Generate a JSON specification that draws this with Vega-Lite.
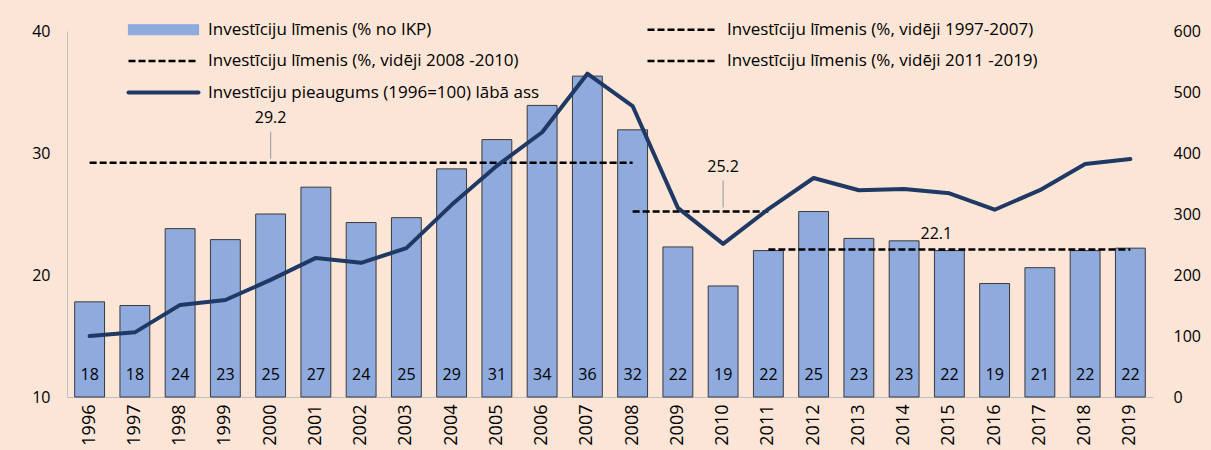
{
  "$schema": "https://vega.github.io/schema/vega-lite/v6.json",
  "width": 1086,
  "height": 366,
  "autosize": {"type": "none"},
  "padding": {"left": 67, "top": 31, "right": 58, "bottom": 53},
  "background": "#FBE5D6",
  "config": {
    "view": {"stroke": null},
    "font": "Open Sans",
    "axis": {"grid": false, "ticks": false, "labelFont": "Open Sans", "labelFontSize": 16, "labelColor": "#000000", "domainColor": "#BFBFBF", "title": null}
  },
  "datasets": {
    "main": [
      {"year": "1996", "share": 17.8, "growth": 100},
      {"year": "1997", "share": 17.5, "growth": 106},
      {"year": "1998", "share": 23.8, "growth": 151},
      {"year": "1999", "share": 22.9, "growth": 159},
      {"year": "2000", "share": 25.0, "growth": 192},
      {"year": "2001", "share": 27.2, "growth": 228},
      {"year": "2002", "share": 24.3, "growth": 220},
      {"year": "2003", "share": 24.7, "growth": 244},
      {"year": "2004", "share": 28.7, "growth": 315},
      {"year": "2005", "share": 31.1, "growth": 379},
      {"year": "2006", "share": 33.9, "growth": 434},
      {"year": "2007", "share": 36.3, "growth": 530},
      {"year": "2008", "share": 31.9, "growth": 477},
      {"year": "2009", "share": 22.3, "growth": 310},
      {"year": "2010", "share": 19.1, "growth": 251},
      {"year": "2011", "share": 22.0, "growth": 308},
      {"year": "2012", "share": 25.2, "growth": 359},
      {"year": "2013", "share": 23.0, "growth": 339},
      {"year": "2014", "share": 22.8, "growth": 341},
      {"year": "2015", "share": 22.0, "growth": 334},
      {"year": "2016", "share": 19.3, "growth": 307},
      {"year": "2017", "share": 20.6, "growth": 339},
      {"year": "2018", "share": 22.0, "growth": 382},
      {"year": "2019", "share": 22.2, "growth": 390}
    ],
    "avg": [
      {"series": "Investīciju līmenis (%, vidēji 1997-2007)", "year": "1996", "avg": 29.2},
      {"series": "Investīciju līmenis (%, vidēji 1997-2007)", "year": "2008", "avg": 29.2},
      {"series": "Investīciju līmenis (%, vidēji 2008 -2010)", "year": "2008", "avg": 25.2},
      {"series": "Investīciju līmenis (%, vidēji 2008 -2010)", "year": "2011", "avg": 25.2},
      {"series": "Investīciju līmenis (%, vidēji 2011 -2019)", "year": "2011", "avg": 22.1},
      {"series": "Investīciju līmenis (%, vidēji 2011 -2019)", "year": "2019", "avg": 22.1}
    ],
    "avglabels": [
      {"label": "29.2", "year": "2000", "avg": 29.2, "leader": true},
      {"label": "25.2", "year": "2010", "avg": 25.2, "leader": true},
      {"label": "22.1", "year": "2015", "avg": 22.1, "leader": false}
    ]
  },
  "encoding": {
    "x": {
      "field": "year", "type": "ordinal",
      "scale": {"paddingInner": 0.34, "paddingOuter": 0.17},
      "axis": {"labelAngle": 270, "labelFontSize": 18, "labelPadding": 7, "domainColor": "#BFBFBF"}
    }
  },
  "layer": [
    {
      "layer": [
        {
          "data": {"name": "main"},
          "mark": {"type": "bar", "fill": "#8FAADC", "stroke": "#3a3a3a", "strokeWidth": 1},
          "encoding": {
            "y": {"field": "share", "type": "quantitative", "scale": {"domain": [10, 40], "zero": false, "nice": false},
              "axis": {"values": [10, 20, 30, 40], "labelPadding": 17, "domainColor": "#BFBFBF"}},
            "y2": {"datum": 10}
          }
        },
        {
          "data": {"name": "main"},
          "mark": {"type": "text", "font": "Open Sans", "fontSize": 16, "color": "#000000", "baseline": "middle", "dy": -22},
          "encoding": {
            "y": {"datum": 10, "type": "quantitative"},
            "text": {"field": "share", "type": "quantitative", "format": ".0f"}
          }
        },
        {
          "data": {"name": "avg"},
          "mark": {"type": "line", "strokeWidth": 2.5, "strokeDash": [7, 3]},
          "encoding": {
            "y": {"field": "avg", "type": "quantitative"},
            "color": {"field": "series", "type": "nominal",
              "scale": {
                "domain": ["Investīciju līmenis (% no IKP)", "Investīciju līmenis (%, vidēji 1997-2007)", "Investīciju līmenis (%, vidēji 2008 -2010)", "Investīciju līmenis (%, vidēji 2011 -2019)", "Investīciju pieaugums (1996=100) lābā ass"],
                "range": ["#8FAADC", "#000000", "#000000", "#000000", "#203864"]
              },
              "legend": {
                "orient": "none", "direction": "horizontal", "legendX": 38, "legendY": -10, "columns": 2, "columnPadding": 84, "rowPadding": 13.5,
                "padding": 0, "title": null, "labelFont": "Open Sans", "labelFontSize": 17, "labelColor": "#000000", "labelLimit": 600,
                "symbolSize": 400, "symbolOffset": 50, "labelOffset": 36,
                "encode": {
                  "symbols": {
                    "update": {
                      "shape": {"signal": "datum.value === 'Investīciju līmenis (% no IKP)' ? 'M-3.5,-0.5H3.5V0.5H-3.5Z' : 'M-3.5,0H3.5'"},
                      "fill": {"signal": "datum.value === 'Investīciju līmenis (% no IKP)' ? '#8FAADC' : 'transparent'"},
                      "stroke": {"signal": "datum.value === 'Investīciju līmenis (% no IKP)' ? '#2a2a2a' : (datum.value === 'Investīciju pieaugums (1996=100) lābā ass' ? '#203864' : '#000000')"},
                      "strokeWidth": {"signal": "datum.value === 'Investīciju līmenis (% no IKP)' ? 1.2 : (datum.value === 'Investīciju pieaugums (1996=100) lābā ass' ? 4 : 2.5)"},
                      "strokeDash": {"signal": "indexof(datum.value, 'vidēji') >= 0 ? [7, 3] : null"},
                      "strokeCap": {"signal": "datum.value === 'Investīciju pieaugums (1996=100) lābā ass' ? 'round' : 'butt'"},
                      "opacity": {"value": 1},
                      "strokeOpacity": {"value": 1},
                      "fillOpacity": {"value": 1}
                    }
                  }
                }
              }
            }
          }
        },
        {
          "data": {"name": "avglabels"},
          "transform": [{"filter": "datum.leader"}],
          "mark": {"type": "rule", "color": "#A6A6A6", "strokeWidth": 1.2, "yOffset": -4, "y2Offset": -31},
          "encoding": {
            "y": {"field": "avg", "type": "quantitative"},
            "y2": {"field": "avg"}
          }
        },
        {
          "data": {"name": "avglabels"},
          "transform": [{"filter": "datum.leader"}],
          "mark": {"type": "text", "font": "Open Sans", "fontSize": 16, "color": "#000000", "baseline": "middle", "dy": -45},
          "encoding": {
            "y": {"field": "avg", "type": "quantitative"},
            "text": {"field": "label"}
          }
        },
        {
          "data": {"name": "avglabels"},
          "transform": [{"filter": "!datum.leader"}],
          "mark": {"type": "text", "font": "Open Sans", "fontSize": 16, "color": "#000000", "baseline": "middle", "dy": -15, "dx": -13},
          "encoding": {
            "y": {"field": "avg", "type": "quantitative"},
            "text": {"field": "label"}
          }
        }
      ]
    },
    {
      "data": {"name": "main"},
      "mark": {"type": "line", "color": "#203864", "strokeWidth": 4, "strokeJoin": "round", "strokeCap": "round"},
      "encoding": {
        "y": {"field": "growth", "type": "quantitative", "scale": {"domain": [0, 600], "nice": false},
          "axis": {"orient": "right", "values": [0, 100, 200, 300, 400, 500, 600], "labelPadding": 20, "domain": false}}
      }
    }
  ],
  "resolve": {"scale": {"y": "independent"}}
}
